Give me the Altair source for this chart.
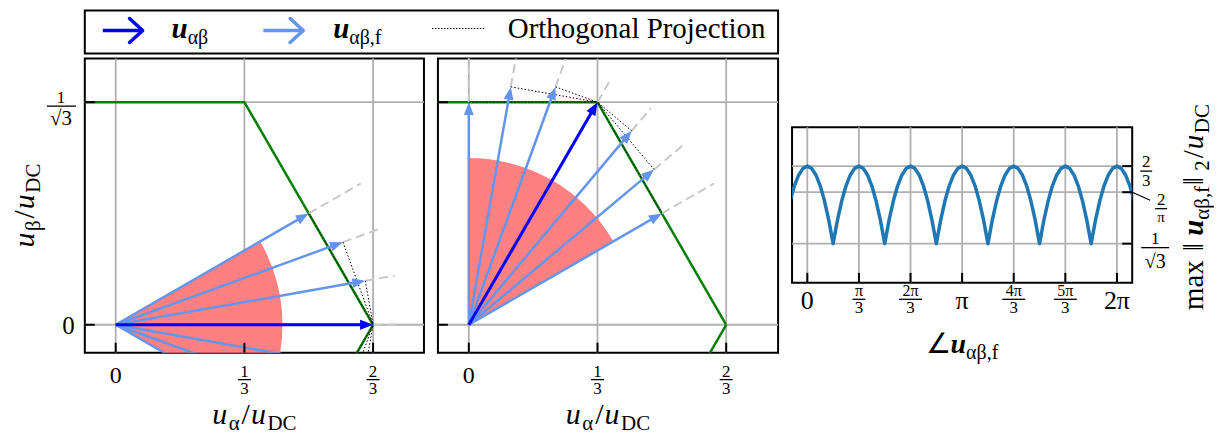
import math
import altair as alt
import pandas as pd

FONT = "Liberation Serif"
GRID = "#b0b0b0"
LIGHT = "#6495ed"
BLUE = "#0000ff"
RED = "#ff8080"
GREEN = "#008000"
DASH = "#c8c8c8"
LINE = "#1f77b4"
SQ3 = 1 / math.sqrt(3)

# ------------------------------------------------------------------ data
ab_ticks = [0.0, 1 / 3, 2 / 3]
ab_plain = ["0", "", ""]
ab_num = ["", "1", "2"]
ab_den = ["", "3", "3"]
beta_ticks = [0.0, SQ3]

hex_alpha = [2 / 3, 1 / 3, -1 / 3, -2 / 3, -1 / 3, 1 / 3, 2 / 3]
hex_beta = [0.0, SQ3, SQ3, 0.0, -SQ3, -SQ3, 0.0]

left_u = [2 / 3, 0.0]
left_angles = [-30, -20, -10, 0, 10, 20, 30]
left_sector = [-30, 30]
mid_u = [1 / 3, SQ3]
mid_angles = [30, 40, 50, 60, 70, 80, 90]
mid_sector = [30, 90]
sector_radius = 0.432
dash_radius = 0.7333

curve_deg = list(range(-20, 385, 5))
curve_val = [
    0.6265, 0.6440, 0.6565, 0.6641,
    0.6667, 0.6641, 0.6565, 0.6440, 0.6265, 0.6042, 0.5774, 0.6042, 0.6265, 0.6440, 0.6565, 0.6641,
    0.6667, 0.6641, 0.6565, 0.6440, 0.6265, 0.6042, 0.5774, 0.6042, 0.6265, 0.6440, 0.6565, 0.6641,
    0.6667, 0.6641, 0.6565, 0.6440, 0.6265, 0.6042, 0.5774, 0.6042, 0.6265, 0.6440, 0.6565, 0.6641,
    0.6667, 0.6641, 0.6565, 0.6440, 0.6265, 0.6042, 0.5774, 0.6042, 0.6265, 0.6440, 0.6565, 0.6641,
    0.6667, 0.6641, 0.6565, 0.6440, 0.6265, 0.6042, 0.5774, 0.6042, 0.6265, 0.6440, 0.6565, 0.6641,
    0.6667, 0.6641, 0.6565, 0.6440, 0.6265, 0.6042, 0.5774, 0.6042, 0.6265, 0.6440, 0.6565, 0.6641,
    0.6667, 0.6641, 0.6565, 0.6440, 0.6265,
]
ang_ticks = [0, 60, 120, 180, 240, 300, 360]
ang_plain = ["0", "", "", "π", "", "", "2π"]
ang_num = ["", "π", "2π", "", "4π", "5π", ""]
ang_den = ["", "3", "3", "", "3", "3", ""]
norm_ticks = [2 / 3, 2 / math.pi, SQ3]

legend_labels = ["Orthogonal Projection"]

# ------------------------------------------------------------------ layout
W1, W2, W3 = 340, 341, 341
H1, H3 = 295, 156
XDOM1 = [-0.08, 0.7985]
XDOM2 = [-0.08, 0.8011]
YDOM = [-0.0724, 0.6908]
ADOM = [-17.75, 377.75]
NDOM = [0.5322, 0.7115]
LEG_W, LEG_TOP, LEG_BOT = 695, -48, -5
RIGHT_TOP = 69

HEAD = "M0,0L0.385,1L-0.385,1Z"
HEAD_SIZE = 676
ONE = pd.DataFrame({"d": [0]})

CW = {"D": .722, "C": .667, "f": .333, ",": .25, "/": .278, "m": .778, "a": .444,
      "x": .5, " ": .25, "α": .52, "β": .5, "π": .55, "‖": .5, "∠": .8, "√": .55, "u": .52}


def tw(t, s):
    return sum(CW.get(c, 0.5) for c in t) * s


def rich(segs, x, y, angle=0, center=True):
    """segs: (text, size, style, dy, gap_before)"""
    widths = [tw(s[0], s[1]) for s in segs]
    total = sum(widths) + sum(s[4] for s in segs)
    cur = -total / 2 if center else 0
    out = []
    for s, w in zip(segs, widths):
        cur += s[4]
        style = s[2]
        out.append(
            alt.Chart(ONE).mark_text(
                text=s[0], font=FONT, fontSize=s[1],
                fontStyle="italic" if "i" in style else "normal",
                fontWeight="bold" if "b" in style else "normal",
                align="left", baseline="alphabetic", angle=angle,
                dx=cur, dy=s[3], color="black",
            ).encode(x=alt.value(x), y=alt.value(y))
        )
        cur += w
    return out


def legend_layers():
    Y0 = LEG_TOP
    LG = [alt.Chart(ONE).mark_rect(fill="white", stroke="black", strokeWidth=2).encode(
        x=alt.value(0), x2=alt.value(LEG_W), y=alt.value(LEG_TOP), y2=alt.value(LEG_BOT))]
    for x0, col in [(18, BLUE), (179, LIGHT)]:
        LG.append(alt.Chart(ONE).mark_rule(color=col, strokeWidth=3.5).encode(
            x=alt.value(x0), x2=alt.value(x0 + 39), y=alt.value(Y0 + 20)))
        LG.append(alt.Chart(ONE).mark_point(shape="M-1.1,-1L0,0L-1.1,1", filled=False, size=576,
                                            strokeWidth=3.5, color=col, opacity=1, strokeCap="round",
                                            strokeJoin="round").encode(
            x=alt.value(x0 + 40), y=alt.value(Y0 + 20)))
    LG += rich([("u", 29, "bi", 0, 0), ("αβ", 20, "", 6, 1)], 87, Y0 + 28, center=False)
    LG += rich([("u", 29, "bi", 0, 0), ("αβ,f", 20, "", 6, 1)], 249, Y0 + 28, center=False)
    LG.append(alt.Chart(ONE).mark_rule(color="black", strokeWidth=1.2, strokeDash=[1.5, 1.5]).encode(
        x=alt.value(348), x2=alt.value(401), y=alt.value(Y0 + 18)))
    LG.append(alt.Chart(ONE).mark_text(text=legend_labels[0], font=FONT, fontSize=29,
                                       align="left", baseline="alphabetic", color="black").encode(
        x=alt.value(424), y=alt.value(Y0 + 28)))
    return LG


def arrow_df(u, angles, ppu):
    ux, uy = u
    rows = []
    for a in angles:
        r = math.radians(a)
        L = ux * math.cos(r) + uy * math.sin(r)
        s = L - 6 / ppu
        rows.append(dict(a=a, ox=0.0, oy=0.0,
                         tx=L * math.cos(r), ty=L * math.sin(r),
                         sx=s * math.cos(r), sy=s * math.sin(r),
                         ex=dash_radius * math.cos(r), ey=dash_radius * math.sin(r),
                         ux=ux, uy=uy, ang=90 - a))
    return pd.DataFrame(rows)


def vector_panel(width, xdom, u, angles, sector, first):
    H = H1
    ppu = width / (xdom[1] - xdom[0])
    xs = alt.Scale(domain=xdom, nice=False, zero=False)
    ys = alt.Scale(domain=YDOM, nice=False, zero=False)

    def X(f):
        return alt.X(f, scale=xs, axis=None)

    def Y(f):
        return alt.Y(f, scale=ys, axis=None)

    L = []
    gx = pd.DataFrame({"v": ab_ticks})
    gy = pd.DataFrame({"v": beta_ticks})
    L.append(alt.Chart(gx).mark_rule(color=GRID, strokeWidth=1.8).encode(
        x=X("v:Q"), y=alt.value(0), y2=alt.value(H)))
    L.append(alt.Chart(gy).mark_rule(color=GRID, strokeWidth=1.8).encode(
        y=Y("v:Q"), x=alt.value(0), x2=alt.value(width)))
    # sector
    th1 = math.radians(90 - sector[1])
    th2 = math.radians(90 - sector[0])
    L.append(alt.Chart(pd.DataFrame({"cx": [0.0], "cy": [0.0]})).mark_arc(
        color=RED, radius=sector_radius * ppu, theta=th1, theta2=th2, clip=True
    ).encode(x=X("cx:Q"), y=Y("cy:Q")))
    # hexagon
    hx = pd.DataFrame({"a": hex_alpha, "b": hex_beta, "i": list(range(len(hex_alpha)))})
    L.append(alt.Chart(hx).mark_line(color=GREEN, strokeWidth=2.5, clip=True).encode(
        x=X("a:Q"), y=Y("b:Q"), order="i:Q"))
    ad = arrow_df(u, angles, ppu)
    L.append(alt.Chart(ad).mark_rule(color=DASH, strokeWidth=2, strokeDash=[9, 5], clip=True).encode(
        x=X("tx:Q"), y=Y("ty:Q"), x2=alt.X2("ex"), y2=alt.Y2("ey")))
    L.append(alt.Chart(ad).mark_rule(color="black", strokeWidth=1, strokeDash=[1.5, 2], clip=True).encode(
        x=X("tx:Q"), y=Y("ty:Q"), x2=alt.X2("ux"), y2=alt.Y2("uy")))
    L.append(alt.Chart(ad).mark_rule(color=LIGHT, strokeWidth=2.5, clip=True).encode(
        x=X("ox:Q"), y=Y("oy:Q"), x2=alt.X2("sx"), y2=alt.Y2("sy")))
    L.append(alt.Chart(ad).mark_point(shape=HEAD, filled=True, size=HEAD_SIZE, color=LIGHT,
                                      opacity=1, strokeWidth=0, clip=True).encode(
        x=X("tx:Q"), y=Y("ty:Q"), angle=alt.Angle("ang:Q", scale=None)))
    # main vector
    ux, uy = u
    Lu = math.hypot(ux, uy)
    au = math.degrees(math.atan2(uy, ux))
    su = (Lu - 6 / ppu) / Lu
    bd = pd.DataFrame({"ox": [0.0], "oy": [0.0], "tx": [ux], "ty": [uy],
                       "sx": [ux * su], "sy": [uy * su], "ang": [90 - au]})
    L.append(alt.Chart(bd).mark_rule(color=BLUE, strokeWidth=3, clip=True).encode(
        x=X("ox:Q"), y=Y("oy:Q"), x2=alt.X2("sx"), y2=alt.Y2("sy")))
    L.append(alt.Chart(bd).mark_point(shape=HEAD, filled=True, size=HEAD_SIZE, color=BLUE,
                                      opacity=1, strokeWidth=0, clip=True).encode(
        x=X("tx:Q"), y=Y("ty:Q"), angle=alt.Angle("ang:Q", scale=None)))
    # ticks (inward)
    L.append(alt.Chart(gx).mark_rule(color="black", strokeWidth=2).encode(
        x=X("v:Q"), y=alt.value(H), y2=alt.value(H - 10)))
    L.append(alt.Chart(gy).mark_rule(color="black", strokeWidth=2).encode(
        y=Y("v:Q"), x=alt.value(0), x2=alt.value(10)))
    # x tick labels
    lab = pd.DataFrame({"v": ab_ticks, "p": ab_plain, "n": ab_num, "d": ab_den})
    lab["bl"] = lab["v"] - 6.5 / ppu
    lab["br"] = lab["v"] + 6.5 / ppu
    pl = lab[lab["p"] != ""]
    fr = lab[lab["n"] != ""]
    L.append(alt.Chart(pl).mark_text(font=FONT, fontSize=24, align="center", baseline="alphabetic").encode(
        x=X("v:Q"), y=alt.value(H + 30), text="p:N"))
    L.append(alt.Chart(fr).mark_text(font=FONT, fontSize=17, align="center", baseline="alphabetic").encode(
        x=X("v:Q"), y=alt.value(H + 24), text="n:N"))
    L.append(alt.Chart(fr).mark_text(font=FONT, fontSize=17, align="center", baseline="alphabetic").encode(
        x=X("v:Q"), y=alt.value(H + 41), text="d:N"))
    L.append(alt.Chart(fr).mark_rule(color="black", strokeWidth=1.3).encode(
        x=X("bl:Q"), x2=alt.X2("br"), y=alt.value(H + 27)))
    # x title
    L += rich([("u", 30, "i", 0, 0), ("α", 21, "", 6, 1), ("/", 30, "", 0, 2),
               ("u", 30, "i", 0, 1), ("DC", 21, "", 6, 1)], width / 2, H + 72)
    if first:
        y0 = pd.DataFrame({"v": [0.0], "t": ["0"]})
        L.append(alt.Chart(y0).mark_text(font=FONT, fontSize=25, align="right", baseline="alphabetic", dy=9).encode(
            x=alt.value(-10), y=Y("v:Q"), text="t:N"))
        ys3 = pd.DataFrame({"v": [SQ3], "n": ["1"], "d": ["√3"]})
        L.append(alt.Chart(ys3).mark_text(font=FONT, fontSize=17, align="center", baseline="alphabetic", dy=1).encode(
            x=alt.value(-24), y=Y("v:Q"), text="n:N"))
        L.append(alt.Chart(ys3).mark_text(font=FONT, fontSize=21, align="center", baseline="alphabetic", dy=23).encode(
            x=alt.value(-24), y=Y("v:Q"), text="d:N"))
        L.append(alt.Chart(ys3).mark_rule(color="black", strokeWidth=1.3, yOffset=4).encode(
            x=alt.value(-38), x2=alt.value(-9), y=Y("v:Q")))
        L += rich([("u", 30, "i", 0, 0), ("β", 21, "", 6, 1), ("/", 30, "", 0, 2),
                   ("u", 30, "i", 0, 1), ("DC", 21, "", 6, 1)], -51, H / 2, angle=270)
        L.append(alt.Chart(ONE).mark_rule(opacity=0).encode(
            x=alt.value(-76), x2=alt.value(-75), y=alt.value(0)))
        L += legend_layers()
    return alt.layer(*L).properties(width=width, height=H)


left = vector_panel(W1, XDOM1, left_u, left_angles, left_sector, True)
mid = vector_panel(W2, XDOM2, mid_u, mid_angles, mid_sector, False)


# ------------------------------------------------------------------ right panel
def norm_panel():
    W, H = W3, H3
    xs = alt.Scale(domain=ADOM, nice=False, zero=False)
    ys = alt.Scale(domain=NDOM, nice=False, zero=False)
    ppx = W / (ADOM[1] - ADOM[0])

    def X(f):
        return alt.X(f, scale=xs, axis=None)

    def Y(f):
        return alt.Y(f, scale=ys, axis=None)

    L = []
    gx = pd.DataFrame({"v": ang_ticks})
    gy = pd.DataFrame({"v": norm_ticks})
    L.append(alt.Chart(gx).mark_rule(color=GRID, strokeWidth=1.8).encode(
        x=X("v:Q"), y=alt.value(0), y2=alt.value(H)))
    L.append(alt.Chart(gy).mark_rule(color=GRID, strokeWidth=1.8).encode(
        y=Y("v:Q"), x=alt.value(0), x2=alt.value(W)))
    cd = pd.DataFrame({"d": curve_deg, "m": curve_val})
    L.append(alt.Chart(cd).mark_line(color=LINE, strokeWidth=3.5, clip=True, strokeJoin="round").encode(
        x=X("d:Q"), y=Y("m:Q")))
    L.append(alt.Chart(gx).mark_rule(color="black", strokeWidth=2).encode(
        x=X("v:Q"), y=alt.value(H), y2=alt.value(H - 10)))
    L.append(alt.Chart(gy).mark_rule(color="black", strokeWidth=2).encode(
        y=Y("v:Q"), x=alt.value(W), x2=alt.value(W - 10)))
    lab = pd.DataFrame({"v": ang_ticks, "p": ang_plain, "n": ang_num, "d": ang_den})
    lab["hw"] = [0, 6.5, 11.5, 0, 11.5, 11.5, 0]
    lab["bl"] = lab["v"] - lab["hw"] / ppx
    lab["br"] = lab["v"] + lab["hw"] / ppx
    pl = lab[lab["p"] != ""]
    fr = lab[lab["n"] != ""]
    L.append(alt.Chart(pl).mark_text(font=FONT, fontSize=26, align="center", baseline="alphabetic").encode(
        x=X("v:Q"), y=alt.value(H + 26), text="p:N"))
    L.append(alt.Chart(fr).mark_text(font=FONT, fontSize=16, align="center", baseline="alphabetic").encode(
        x=X("v:Q"), y=alt.value(H + 13), text="n:N"))
    L.append(alt.Chart(fr).mark_text(font=FONT, fontSize=17, align="center", baseline="alphabetic").encode(
        x=X("v:Q"), y=alt.value(H + 30), text="d:N"))
    L.append(alt.Chart(fr).mark_rule(color="black", strokeWidth=1.3).encode(
        x=X("bl:Q"), x2=alt.X2("br"), y=alt.value(H + 16.5)))
    # y labels (right side)
    yl = pd.DataFrame({"v": norm_ticks, "n": ["2", "2", "1"], "d": ["3", "π", "√3"],
                       "cx": [W + 14, W + 29, W + 23]})
    specs = [  # (row, num dy, bar dy, den dy, den size, half width)
        (0, 1, 5, 20, 17, 6),
        (1, 13, 16.5, 30, 15, 6),
        (2, 0, 4, 24, 20, 14),
    ]
    for i, ndy, bdy, ddy, dsz, hw in specs:
        row = yl.iloc[[i]]
        cx = float(row["cx"].iloc[0])
        L.append(alt.Chart(row).mark_text(font=FONT, fontSize=17, align="center", baseline="alphabetic", dy=ndy).encode(
            x=alt.value(cx), y=Y("v:Q"), text="n:N"))
        L.append(alt.Chart(row).mark_text(font=FONT, fontSize=dsz, align="center", baseline="alphabetic", dy=ddy).encode(
            x=alt.value(cx), y=Y("v:Q"), text="d:N"))
        L.append(alt.Chart(row).mark_rule(color="black", strokeWidth=1.3, yOffset=bdy).encode(
            x=alt.value(cx - hw), x2=alt.value(cx + hw), y=Y("v:Q")))
    lead = yl.iloc[[1]]
    L.append(alt.Chart(lead).mark_rule(color="black", strokeWidth=1.2, y2Offset=8).encode(
        x=alt.value(W), x2=alt.value(W + 18), y=Y("v:Q"), y2=alt.Y2("v")))
    L += rich([("∠", 28, "", 0, 0), ("u", 28, "bi", 0, 2), ("αβ,f", 20, "", 6, 1)], W / 2, H + 70)
    L += rich([("max", 29, "", 0, 0), ("‖", 29, "", 0, 9), ("u", 29, "bi", 0, 1),
               ("αβ,f", 21, "", 6, 1), ("‖", 29, "", 0, 1), ("2", 21, "", 6, 0),
               ("/", 29, "", 0, 2), ("u", 29, "i", 0, 1), ("DC", 21, "", 6, 1)],
              W + 71, 80, angle=270)
    return alt.layer(*L).properties(width=W, height=H)


right = norm_panel()

spacer = alt.Chart(ONE).mark_point(opacity=0).encode(
    x=alt.value(0), y=alt.value(0)).properties(
    width=W3, height=RIGHT_TOP, view=alt.ViewBackground(stroke="transparent"))

rcol = alt.vconcat(spacer, right, spacing=0, bounds="flush")
chart = alt.hconcat(left, mid, rcol, spacing=14, bounds="flush").properties(
    padding=0).configure_view(stroke="black", strokeWidth=2)

chart.save("out.html", embed_options={"renderer": "svg", "actions": False})
